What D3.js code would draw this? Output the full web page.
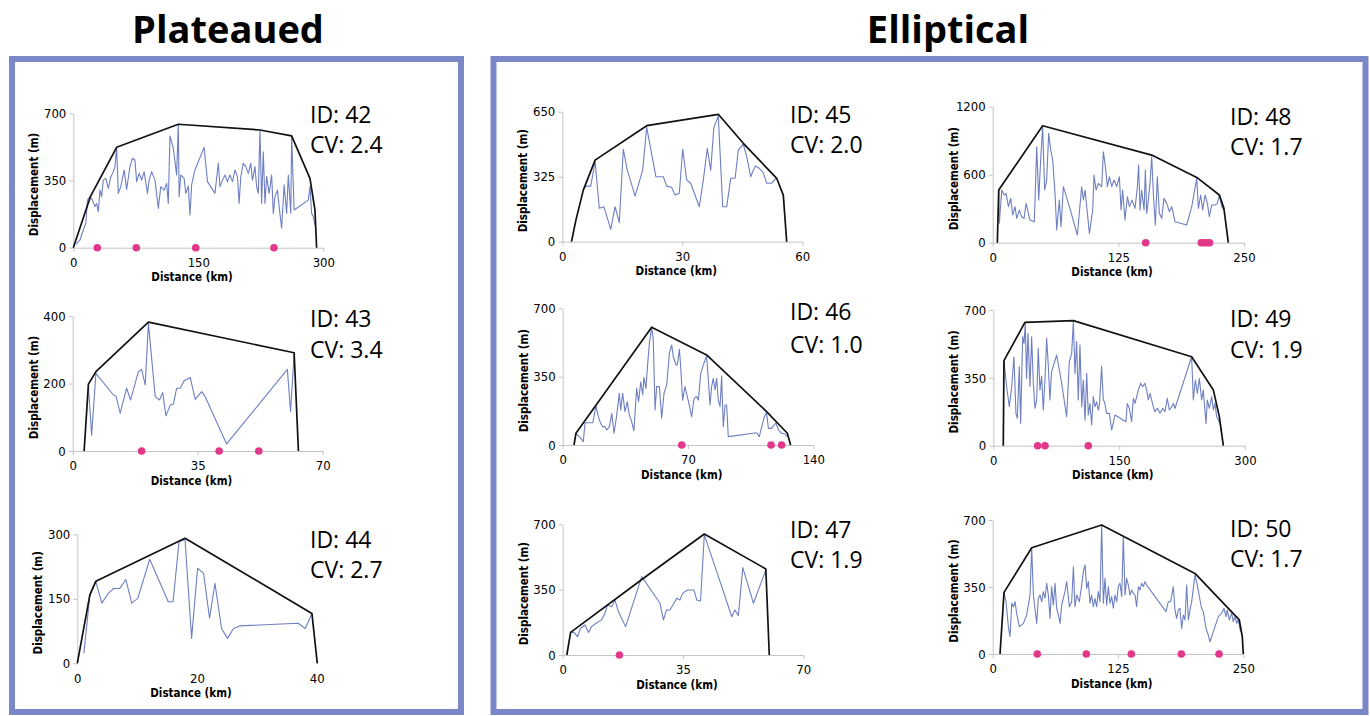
<!DOCTYPE html>
<html>
<head>
<meta charset="utf-8">
<script src="https://cdn.jsdelivr.net/npm/d3@7"></script>
<style>
  body { margin: 0; background: #fff; }
  .tick text { font-family: "DejaVu Sans Condensed", "DejaVu Sans", sans-serif; font-stretch: condensed; font-size: 13px; fill: #000; }
  .axis path, .axis line { stroke: #c4c4c4; }
  .alabel { font-family: "DejaVu Sans Condensed", "DejaVu Sans", sans-serif; font-stretch: condensed; font-weight: bold; font-size: 11.5px; }
  .idtext { font-family: "Open Sans", sans-serif; font-size: 23px; }
  .title { font-family: "Open Sans", sans-serif; font-weight: bold; font-size: 38px; }
</style>
</head>
<body>
<div id="chart"></div>
<script>

var svgWidth = 1370;
var svgHeight = 716;

// panel ids and CV values
var panelIds = [42, 43, 44, 45, 46, 47, 48, 49, 50];
var cvValues = ['2.4', '3.4', '2.7', '2.0', '1.0', '1.9', '1.7', '1.9', '1.7'];

// axis tick labels [x], [y]
var xTicks = [[0, 150, 300], [0, 35, 70], [0, 20, 40], [0, 30, 60], [0, 70, 140], [0, 35, 70], [0, 125, 250], [0, 150, 300], [0, 125, 250]];
var yTicks = [[0, 350, 700], [0, 200, 400], [0, 150, 300], [0, 325, 650], [0, 350, 700], [0, 350, 700], [0, 600, 1200], [0, 350, 700], [0, 350, 700]];

// envelopes [km, m]
var env42 = [[0,0],[20.8,269],[52,523],[126,643],[224,613],[262,582],[284,361],[290,196],[292,0]];
var env43 = [[3.2,0],[4.4,198],[6.5,235],[21.2,382],[62,291],[63.2,0]];
var env44 = [[0,0],[2.1,159],[3.1,191],[18,291],[39.2,116],[40.1,0]];
var env45 = [[2.3,0],[3.4,108],[5.25,258],[8.2,408],[21.1,580],[39,637],[45.25,492],[53.6,317],[55.25,233],[56.1,0]];
var env46 = [[6.3,0],[7.4,60],[49.7,603],[80.4,461],[113.9,171],[125.5,60],[127.3,0]];
var env47 = [[1.2,0],[2.3,121],[24.4,423],[41.2,648],[59.1,461],[60.1,0]];
var env48 = [[4.6,0],[6,465],[49.7,1032],[158.2,773],[203,576],[225.5,421],[230,303],[234.4,0]];
var env49 = [[11.9,0],[12.7,439],[37.7,636],[95.4,645],[236.4,459],[262.3,287],[269.4,150],[274.2,0]];
var env50 = [[7.3,0],[11.3,322],[38.9,555],[108.7,674],[201.8,421],[246,178],[249,90],[250,0]];

// displacement profiles [km, m]
var prof42 = [[3.2,19],[8,40],[12,92],[15,127],[17,248],[20,266],[23,248],[26,214],[28,231],[30,188],[32,300],[34,266],[36,352],[39,361],[42,309],[45,370],[48,396],[50,422],[52,523],[54,283],[57,318],[61,405],[64,304],[68,422],[71,466],[74,457],[76,344],[79,387],[82,352],[85,396],[89,283],[91,352],[94,396],[98,352],[102,205],[105,318],[109,300],[112,335],[114,231],[116,582],[120,518],[124,379],[126,643],[127,266],[129,379],[133,361],[135,283],[138,321],[140,170],[142,327],[146,405],[157,523],[161,344],[170,283],[174,440],[176,318],[179,352],[182,379],[185,344],[188,379],[191,344],[194,405],[197,370],[199,231],[201,370],[204,440],[207,422],[210,387],[213,440],[215,352],[218,422],[220,318],[222,283],[224,613],[226,231],[228,500],[230,231],[232,370],[235,283],[238,379],[240,179],[242,266],[245,300],[247,214],[250,101],[253,327],[256,179],[258,379],[261,179],[262,582],[265,196],[282,248],[284,318],[286,179],[288,162],[290,118]];
var prof43 = [[4.4,191],[5.3,47],[6.5,230],[11.4,166],[12.1,163],[13.3,112],[15.1,186],[16.2,151],[18.4,235],[19.3,242],[20.3,196],[21.2,378],[23.1,161],[24.3,151],[25.2,173],[26.1,104],[27.3,136],[28.2,139],[29.1,186],[30.1,186],[31.2,208],[32.9,218],[34.3,153],[36.1,176],[37.1,161],[43.1,21],[60.1,242],[61,117],[62,289]];
var prof44 = [[1.1,23],[2.1,159],[3.1,190],[4.1,140],[5.2,163],[6.1,174],[7.1,174],[8.1,195],[9.1,140],[10.1,151],[12.1,242],[15.2,143],[16,143],[17,283],[18,288],[19.1,58],[20.1,221],[21.1,209],[22.1,105],[23,186],[24.1,81],[25.1,58],[26.1,81],[27.1,87],[36.9,93],[38.1,81],[39.2,116]];
var prof45 = [[5.4,267],[6.1,278],[7.1,278],[8.2,400],[9.25,167],[10.4,175],[12.1,62],[13.2,175],[14.25,95],[15.25,462],[16.25,358],[18.2,228],[20.1,358],[21.1,572],[23.4,325],[25.25,325],[26.1,278],[27.3,272],[28.2,233],[29.25,242],[30.1,462],[31.1,308],[32.1,292],[34.25,175],[35.25,308],[36.25,467],[37.1,358],[37.9,572],[39,628],[40.1,175],[41.1,175],[42.1,317],[43.2,317],[44,458],[45.25,488],[46.1,425],[47.1,325],[48.2,378],[49.25,367],[50.25,345],[51.1,292],[52.3,292],[53.4,317]];
var prof46 = [[7.4,60],[9.3,43],[11.5,17],[12.5,114],[15.3,114],[16.8,114],[18.6,200],[19.9,145],[21.2,111],[22.3,94],[23.6,94],[24.6,77],[26.1,94],[27.4,162],[28.7,60],[30.2,154],[31.6,265],[32.4,179],[33.5,265],[34.8,171],[36.1,222],[37.2,154],[38.5,120],[39.8,73],[41.3,290],[42.4,222],[43.6,324],[44.7,256],[45.4,347],[46.5,290],[47.5,418],[48.4,520],[49.7,603],[50.6,538],[51.6,179],[52.5,299],[54,299],[55.3,137],[56.6,265],[58.1,307],[59.6,470],[60.9,512],[61.8,452],[63.3,410],[64,410],[65.2,490],[65.9,401],[67,230],[68.3,299],[69.6,248],[70.7,205],[72,145],[73.4,239],[74.8,248],[75.8,230],[77.1,367],[78.6,410],[80.4,456],[81.5,316],[82.3,205],[83.2,299],[84.1,341],[85.1,282],[86,341],[86.9,230],[87.9,196],[88.8,353],[89.7,94],[90.7,205],[91.6,205],[92.5,43],[108.4,63],[109.8,43],[111.7,111],[112.4,137],[113.9,166],[114.9,85],[116.7,85],[119.1,114],[120.5,77],[122.3,60],[124.2,56],[125.5,43]];
var prof47 = [[2.3,121],[3.3,121],[4.3,98],[5.2,143],[6.5,161],[7.5,121],[8.4,152],[9.7,170],[11.3,188],[12.3,223],[13,268],[14.3,259],[15.2,295],[16.2,232],[18.3,152],[23,420],[28.3,277],[29.3,188],[30.2,241],[31.2,241],[33.2,304],[34.1,295],[34.9,330],[36.3,348],[38.2,348],[39,295],[40.1,289],[41.2,643],[45.3,420],[49.2,205],[50.1,241],[51.1,211],[52.4,468],[55.5,277],[59.1,455]];
var prof48 = [[6,465],[6.6,171],[9,465],[11.3,421],[13.3,435],[15.6,318],[17.9,391],[19.9,244],[22.2,318],[23.9,215],[26.5,288],[28.8,229],[31.2,215],[33.2,347],[35.5,259],[37.1,200],[41.4,185],[43.8,847],[45.8,376],[47.7,729],[49.7,1024],[51.7,465],[53.7,553],[55.7,965],[57.7,818],[59.7,729],[62,435],[63.7,112],[66.3,376],[68,141],[70.3,494],[76.3,318],[84.2,68],[88.5,494],[90.2,376],[91.9,465],[96.2,82],[99.5,288],[100.8,597],[102.8,465],[105.1,523],[108.4,494],[110.1,803],[112.1,671],[114.1,494],[116.1,582],[118.4,494],[120.7,553],[123.4,494],[126,582],[127.7,288],[129.3,465],[131.6,200],[134,406],[136,318],[138.6,376],[141.6,303],[143.9,494],[145.2,685],[146.6,288],[148.2,465],[150.6,288],[151.9,641],[153.2,259],[154.5,347],[156.5,523],[158.2,759],[159.8,435],[161.8,156],[163.8,582],[165.8,259],[168.1,215],[170.4,391],[173.1,347],[175.7,274],[178.1,318],[181.4,185],[193,156],[198,318],[203,568],[204.6,303],[206.9,421],[208.9,288],[211.2,421],[213.6,347],[215.5,229],[217.9,332],[221.2,332],[223.5,347],[225.5,421],[227.8,318],[230.1,288]];
var prof49 = [[12.7,439],[15.9,304],[19.1,201],[21.9,304],[24.6,459],[27,167],[28.6,141],[31,408],[32.6,115],[35,562],[36.6,528],[38.1,631],[39.7,347],[41.3,580],[43.7,304],[45.7,562],[47.7,322],[49.7,193],[51.7,236],[53.6,502],[55.6,287],[57.6,359],[59.6,184],[61.6,339],[63.6,554],[65.6,408],[67.5,236],[69.5,382],[75.5,468],[81.5,322],[87.4,150],[90.6,433],[93.4,476],[95.4,640],[97.4,373],[99.3,537],[101.3,236],[103.3,519],[105.4,201],[107.3,339],[109.3,132],[111.3,373],[113.2,158],[115.2,218],[117.2,107],[119.2,253],[121.2,201],[123.2,227],[125.2,184],[126.5,210],[129.1,408],[131.1,236],[132.5,227],[135.1,167],[138.3,167],[141.1,81],[145,158],[158.1,124],[159.7,218],[162.1,193],[164.9,124],[166.9,244],[168.9,218],[170.9,253],[172.8,287],[175.6,322],[178,304],[180.8,322],[182.8,287],[184.8,236],[186.8,270],[190.7,201],[192.7,175],[195.5,193],[198.7,167],[201.9,193],[204.6,175],[207.4,244],[209.8,184],[212.6,201],[214.6,218],[216.6,193],[236.4,459],[238.4,236],[240.8,339],[243.2,270],[245.6,347],[248.3,236],[250.3,287],[253.5,115],[255.1,236],[257.5,193],[260.3,253],[262.3,184],[264.2,218],[266.2,150],[268.2,132],[270.2,115],[272.2,64]];
var prof50 = [[11.3,317],[13.3,273],[15.6,143],[17.3,91],[19,265],[20.6,247],[22.3,273],[23.9,212],[26.6,143],[30.6,160],[33.9,204],[37.2,308],[38.9,552],[40.6,308],[43.9,160],[45.5,291],[47.2,308],[48.9,273],[50.5,326],[52.2,291],[53.9,369],[55.5,308],[57.2,186],[58.8,352],[60.5,256],[62.2,369],[63.8,239],[65.5,204],[67.2,160],[68.8,256],[72.1,326],[73.8,378],[76.5,247],[78.8,273],[80.5,456],[82.1,247],[83.8,308],[86.4,273],[88.8,360],[90.4,430],[92.1,465],[93.8,343],[95.4,378],[97.1,265],[98.7,308],[100.4,247],[102.1,291],[103.7,247],[105.4,326],[107,273],[108.7,670],[110.4,265],[112,395],[113.7,256],[115.4,352],[117,265],[118.7,300],[120.3,239],[122,308],[123.7,273],[125.3,352],[127,369],[128.7,300],[130.3,613],[132,308],[133.6,395],[135.3,360],[137,308],[138.6,334],[140.3,317],[142,308],[143.6,247],[145.3,352],[146.9,334],[148.6,369],[150.3,352],[151.9,378],[153.6,360],[172.9,221],[175.2,273],[177.5,273],[180.2,352],[181.8,230],[183.5,186],[185.2,230],[186.8,239],[188.5,134],[190.2,204],[191.8,178],[193.5,360],[195.2,178],[196.8,230],[198.5,273],[201.8,413],[204.1,360],[206.8,282],[208.4,239],[210.1,221],[212.8,134],[215.1,99],[216.8,64],[220.1,117],[225.1,195],[228.4,212],[230.7,239],[232.7,195],[234,230],[236,178],[238.4,212],[240,169],[241.7,195],[243.4,160],[245,178],[247.3,117]];

// pink markers (km)
var dots42 = [28.8, 75.6, 146.9, 240.8];
var dots43 = [19.3, 41.0, 52.1];
var dots44 = [];
var dots45 = [];
var dots46 = [66.5, 116.4, 122.3];
var dots47 = [16.5];
var dots48 = [152.2, 207.5, 210.4, 213.1, 215.7];
var dots49 = [52.9, 61.6, 113.2];
var dots50 = [44.5, 93.4, 138.3, 188.2, 225.8];

var envelopes = [env42, env43, env44, env45, env46, env47, env48, env49, env50];
var profiles = [prof42, prof43, prof44, prof45, prof46, prof47, prof48, prof49, prof50];
var dotSets = [dots42, dots43, dots44, dots45, dots46, dots47, dots48, dots49, dots50];

// panel placement: plot left/right, bottom/top, text x, id baseline, cv baseline
var layout = [
  {l: 73.3, r: 323.3, b: 247.7, t: 113.3, tx: 310, idY: 123, cvY: 153, xLine: true},
  {l: 72.7, r: 322.7, b: 451, t: 316, tx: 310, idY: 326.7, cvY: 358, xLine: true},
  {l: 77.3, r: 316.7, b: 663.3, t: 534.3, tx: 310, idY: 548, cvY: 578, xLine: false},
  {l: 562.3, r: 802.3, b: 241.7, t: 111.7, tx: 790, idY: 122.7, cvY: 153.3, xLine: true},
  {l: 562.7, r: 813.3, b: 445, t: 308.3, tx: 790, idY: 320, cvY: 353, xLine: true},
  {l: 562.7, r: 803.3, b: 655, t: 524.3, tx: 790, idY: 538.3, cvY: 568.3, xLine: true},
  {l: 992.7, r: 1244, b: 242.7, t: 106.7, tx: 1230, idY: 125, cvY: 155, xLine: true},
  {l: 993.3, r: 1245, b: 445.7, t: 310, tx: 1230, idY: 326.7, cvY: 358.3, xLine: true},
  {l: 992.7, r: 1243.3, b: 654, t: 520, tx: 1230, idY: 536.7, cvY: 566.7, xLine: true}
];

var frameColor = '#7b87c7';
var profileColor = '#6e7fc2';
var dotColor = '#e2388a';

var svg = d3.select('#chart')
  .append('svg')
  .attr('width', svgWidth)
  .attr('height', svgHeight);

// group frames
svg.append('rect')
  .attr('x', 12).attr('y', 59).attr('width', 449).attr('height', 653)
  .attr('fill', 'none').attr('stroke', frameColor).attr('stroke-width', 6);
svg.append('rect')
  .attr('x', 493.5).attr('y', 59).attr('width', 872).attr('height', 653)
  .attr('fill', 'none').attr('stroke', frameColor).attr('stroke-width', 6);

svg.append('text').classed('title', true)
  .attr('x', 228).attr('y', 43).attr('text-anchor', 'middle')
  .text('Plateaued');
svg.append('text').classed('title', true)
  .attr('x', 948).attr('y', 43).attr('text-anchor', 'middle')
  .text('Elliptical');

panelIds.forEach(function(id, i) {
  var box = layout[i];
  var xt = xTicks[i];
  var yt = yTicks[i];

  var xScale = d3.scaleLinear().domain([0, xt[2]]).range([box.l, box.r]);
  var yScale = d3.scaleLinear().domain([0, yt[2]]).range([box.b, box.t]);

  var g = svg.append('g');

  var xAxis = g.append('g')
    .classed('axis', true)
    .attr('transform', `translate(0, ${box.b})`)
    .call(d3.axisBottom(xScale).tickValues(xt).tickFormat(d3.format('d'))
      .tickSize(4).tickSizeOuter(0).tickPadding(6));
  if (!box.xLine) {
    xAxis.select('.domain').remove();
    xAxis.selectAll('.tick line').remove();
  }

  g.append('g')
    .classed('axis', true)
    .attr('transform', `translate(${box.l}, 0)`)
    .call(d3.axisLeft(yScale).tickValues(yt).tickFormat(d3.format('d'))
      .tickSize(4).tickSizeOuter(0).tickPadding(3));

  g.selectAll('.domain').attr('stroke', '#c4c4c4');

  // axis titles
  g.append('text').classed('alabel', true)
    .attr('text-anchor', 'middle')
    .attr('transform', `translate(${box.l - 35}, ${(box.b + box.t) / 2 + 4}) rotate(-90)`)
    .text('Displacement (m)');

  g.append('text').classed('alabel', true)
    .attr('text-anchor', 'middle')
    .attr('x', box.l + (box.r - box.l) * 0.475)
    .attr('y', box.b + 33.5)
    .text('Distance (km)');

  var line = d3.line()
    .x(d => xScale(d[0]))
    .y(d => yScale(d[1]));

  g.append('path')
    .datum(profiles[i])
    .attr('d', line)
    .attr('fill', 'none')
    .attr('stroke', profileColor)
    .attr('stroke-width', 1.1)
    .attr('stroke-linejoin', 'round');

  g.append('path')
    .datum(envelopes[i])
    .attr('d', line)
    .attr('fill', 'none')
    .attr('stroke', '#111')
    .attr('stroke-width', 1.7)
    .attr('stroke-linejoin', 'round');

  g.selectAll('.dot')
    .data(dotSets[i])
    .enter()
    .append('circle')
    .attr('cx', d => xScale(d))
    .attr('cy', yScale(0))
    .attr('r', 3.8)
    .attr('fill', dotColor);

  g.append('text').classed('idtext', true)
    .attr('x', box.tx).attr('y', box.idY)
    .text('ID: ' + id);
  g.append('text').classed('idtext', true)
    .attr('x', box.tx).attr('y', box.cvY)
    .text('CV: ' + cvValues[i]);
});

</script>
</body>
</html>
